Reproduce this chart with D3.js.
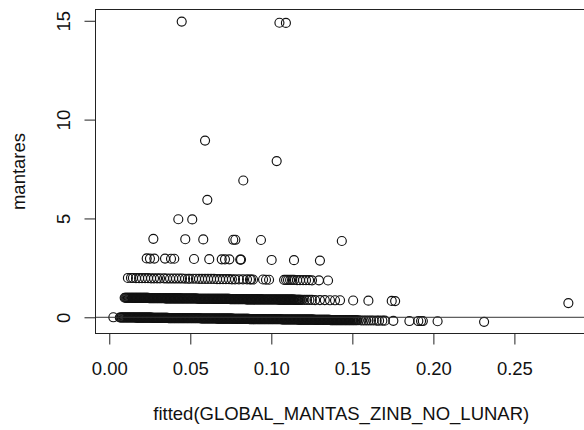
<!DOCTYPE html>
<html>
<head>
<meta charset="utf-8">
<script src="https://cdn.jsdelivr.net/npm/d3@7"></script>
<style>
  body { margin: 0; background: #fff; }
  svg { display: block; font-family: "Liberation Sans", Arial, Helvetica, sans-serif; }
</style>
</head>
<body>
<svg id="chart" width="584" height="430"></svg>
<script>
// points as [fitted, plotted value]
// zero observations: dense band, then its thinner tail
const obs0 = [
  [0.0025,0.00],
  [0.0065,-0.01],[0.0070,-0.01],[0.0075,-0.01],[0.0080,-0.01],[0.0085,-0.01],[0.0090,-0.01],[0.0095,-0.01],[0.0100,-0.01],[0.0105,-0.01],[0.0110,-0.01],
  [0.0115,-0.01],[0.0120,-0.01],[0.0125,-0.01],[0.0130,-0.01],[0.0135,-0.01],[0.0140,-0.01],[0.0145,-0.01],[0.0150,-0.01],[0.0155,-0.01],[0.0160,-0.01],
  [0.0165,-0.02],[0.0170,-0.02],[0.0175,-0.02],[0.0180,-0.02],[0.0185,-0.02],[0.0190,-0.02],[0.0195,-0.02],[0.0200,-0.02],[0.0205,-0.02],[0.0210,-0.02],
  [0.0215,-0.02],[0.0220,-0.02],[0.0225,-0.02],[0.0230,-0.02],[0.0235,-0.02],[0.0240,-0.02],[0.0245,-0.02],[0.0250,-0.02],[0.0255,-0.02],[0.0260,-0.02],
  [0.0265,-0.03],[0.0270,-0.03],[0.0275,-0.03],[0.0280,-0.03],[0.0285,-0.03],[0.0290,-0.03],[0.0295,-0.03],[0.0300,-0.03],[0.0305,-0.03],[0.0310,-0.03],
  [0.0315,-0.03],[0.0320,-0.03],[0.0325,-0.03],[0.0330,-0.03],[0.0335,-0.03],[0.0340,-0.03],[0.0345,-0.03],[0.0350,-0.03],[0.0355,-0.03],[0.0360,-0.03],
  [0.0365,-0.04],[0.0370,-0.04],[0.0375,-0.04],[0.0380,-0.04],[0.0385,-0.04],[0.0390,-0.04],[0.0395,-0.04],[0.0400,-0.04],[0.0405,-0.04],[0.0410,-0.04],
  [0.0415,-0.04],[0.0420,-0.04],[0.0425,-0.04],[0.0430,-0.04],[0.0435,-0.04],[0.0440,-0.04],[0.0445,-0.04],[0.0450,-0.04],[0.0455,-0.04],[0.0460,-0.04],
  [0.0465,-0.05],[0.0470,-0.05],[0.0475,-0.05],[0.0480,-0.05],[0.0485,-0.05],[0.0490,-0.05],[0.0495,-0.05],[0.0500,-0.05],[0.0505,-0.05],[0.0510,-0.05],
  [0.0515,-0.05],[0.0520,-0.05],[0.0525,-0.05],[0.0530,-0.05],[0.0535,-0.05],[0.0540,-0.05],[0.0545,-0.05],[0.0550,-0.05],[0.0555,-0.05],[0.0560,-0.05],
  [0.0565,-0.06],[0.0570,-0.06],[0.0575,-0.06],[0.0580,-0.06],[0.0585,-0.06],[0.0590,-0.06],[0.0595,-0.06],[0.0600,-0.06],[0.0605,-0.06],[0.0610,-0.06],
  [0.0615,-0.06],[0.0620,-0.06],[0.0625,-0.06],[0.0630,-0.06],[0.0635,-0.06],[0.0640,-0.06],[0.0645,-0.06],[0.0650,-0.06],[0.0655,-0.06],[0.0660,-0.06],
  [0.0665,-0.07],[0.0670,-0.07],[0.0675,-0.07],[0.0680,-0.07],[0.0685,-0.07],[0.0690,-0.07],[0.0695,-0.07],[0.0700,-0.07],[0.0705,-0.07],[0.0710,-0.07],
  [0.0715,-0.07],[0.0720,-0.07],[0.0725,-0.07],[0.0730,-0.07],[0.0735,-0.07],[0.0740,-0.07],[0.0745,-0.07],[0.0750,-0.07],[0.0755,-0.07],[0.0760,-0.07],
  [0.0765,-0.08],[0.0770,-0.08],[0.0775,-0.08],[0.0780,-0.08],[0.0785,-0.08],[0.0790,-0.08],[0.0795,-0.08],[0.0800,-0.08],[0.0805,-0.08],[0.0810,-0.08],
  [0.0815,-0.08],[0.0820,-0.08],[0.0825,-0.08],[0.0830,-0.08],[0.0835,-0.08],[0.0840,-0.08],[0.0845,-0.08],[0.0850,-0.08],[0.0855,-0.08],[0.0860,-0.08],
  [0.0865,-0.09],[0.0870,-0.09],[0.0875,-0.09],[0.0880,-0.09],[0.0885,-0.09],[0.0890,-0.09],[0.0895,-0.09],[0.0900,-0.09],[0.0905,-0.09],[0.0910,-0.09],
  [0.0915,-0.09],[0.0920,-0.09],[0.0925,-0.09],[0.0930,-0.09],[0.0935,-0.09],[0.0940,-0.09],[0.0945,-0.09],[0.0950,-0.09],[0.0955,-0.09],[0.0960,-0.09],
  [0.0965,-0.10],[0.0970,-0.10],[0.0975,-0.10],[0.0980,-0.10],[0.0985,-0.10],[0.0990,-0.10],[0.0995,-0.10],[0.1000,-0.10],[0.1005,-0.10],[0.1010,-0.10],
  [0.1015,-0.10],[0.1020,-0.10],[0.1025,-0.10],[0.1030,-0.10],[0.1035,-0.10],[0.1040,-0.10],[0.1045,-0.10],[0.1050,-0.10],[0.1055,-0.10],[0.1060,-0.10],
  [0.1065,-0.11],[0.1070,-0.11],[0.1075,-0.11],[0.1080,-0.11],[0.1085,-0.11],[0.1090,-0.11],[0.1095,-0.11],[0.1100,-0.11],[0.1105,-0.11],[0.1110,-0.11],
  [0.1115,-0.11],[0.1120,-0.11],[0.1125,-0.11],[0.1130,-0.11],[0.1135,-0.11],[0.1140,-0.11],[0.1145,-0.11],[0.1150,-0.11],[0.1155,-0.11],[0.1160,-0.11],
  [0.1165,-0.12],[0.1170,-0.12],[0.1175,-0.12],[0.1180,-0.12],[0.1185,-0.12],[0.1190,-0.12],[0.1195,-0.12],[0.1200,-0.12],[0.1205,-0.12],[0.1210,-0.12],
  [0.1215,-0.12],[0.1220,-0.12],[0.1225,-0.12],[0.1230,-0.12],[0.1235,-0.12],[0.1240,-0.12],[0.1245,-0.12],[0.1250,-0.12],[0.1255,-0.12],[0.1260,-0.12],
  [0.1265,-0.13],[0.1270,-0.13],[0.1275,-0.13],[0.1280,-0.13],[0.1285,-0.13],[0.1290,-0.13],[0.1295,-0.13],[0.1300,-0.13],[0.1305,-0.13],[0.1310,-0.13],
  [0.1315,-0.13],[0.1320,-0.13],[0.1325,-0.13],[0.1330,-0.13],[0.1335,-0.13],[0.1340,-0.13],[0.1345,-0.13],[0.1350,-0.13],[0.1355,-0.13],[0.1360,-0.13],
  [0.1365,-0.14],[0.1370,-0.14],[0.1375,-0.14],[0.1380,-0.14],[0.1385,-0.14],[0.1390,-0.14],[0.1395,-0.14],[0.1400,-0.14],[0.1405,-0.14],[0.1410,-0.14],
  [0.1415,-0.14],[0.1420,-0.14],[0.1425,-0.14],[0.1430,-0.14],[0.1435,-0.14],[0.1440,-0.14],[0.1445,-0.14],[0.1450,-0.14],[0.1455,-0.14],[0.1460,-0.14],
  [0.1465,-0.15],[0.1470,-0.15],[0.1475,-0.15],[0.1480,-0.15],[0.1485,-0.15],[0.1490,-0.15],[0.1495,-0.15],[0.1500,-0.15],[0.1505,-0.15],[0.1510,-0.15],
  [0.1515,-0.15],[0.1520,-0.15],[0.1525,-0.15],[0.1530,-0.15],
  [0.1540,-0.15],[0.1555,-0.16],[0.1570,-0.16],[0.1585,-0.16],[0.1600,-0.16],[0.1615,-0.16],[0.1630,-0.16],[0.1650,-0.17],[0.1665,-0.17],[0.1685,-0.17],[0.1700,-0.17],
  [0.1753,-0.18],[0.1852,-0.19],[0.1907,-0.19],[0.1924,-0.19],[0.1935,-0.19],[0.2026,-0.20],[0.2313,-0.23]
];

// one observation
const obs1 = [
  [0.0095,0.99],[0.0100,0.99],[0.0105,0.99],[0.0110,0.99],[0.0115,0.99],[0.0120,0.99],[0.0125,0.99],[0.0130,0.99],[0.0135,0.99],[0.0140,0.99],
  [0.0145,0.98],[0.0150,0.98],[0.0155,0.98],[0.0160,0.98],[0.0165,0.98],[0.0170,0.98],[0.0175,0.98],[0.0180,0.98],[0.0185,0.98],[0.0190,0.98],
  [0.0195,0.98],[0.0200,0.98],[0.0205,0.98],[0.0210,0.98],[0.0215,0.98],[0.0220,0.98],[0.0225,0.98],[0.0230,0.98],[0.0235,0.98],[0.0240,0.98],
  [0.0245,0.97],[0.0250,0.97],[0.0255,0.97],[0.0260,0.97],[0.0265,0.97],[0.0270,0.97],[0.0275,0.97],[0.0280,0.97],[0.0285,0.97],[0.0290,0.97],
  [0.0295,0.97],[0.0300,0.97],[0.0305,0.97],[0.0310,0.97],[0.0315,0.97],[0.0320,0.97],[0.0325,0.97],[0.0330,0.97],[0.0335,0.97],[0.0340,0.97],
  [0.0345,0.96],[0.0350,0.96],[0.0355,0.96],[0.0360,0.96],[0.0365,0.96],[0.0370,0.96],[0.0375,0.96],[0.0380,0.96],[0.0385,0.96],[0.0390,0.96],
  [0.0395,0.96],[0.0400,0.96],[0.0405,0.96],[0.0410,0.96],[0.0415,0.96],[0.0420,0.96],[0.0425,0.96],[0.0430,0.96],[0.0435,0.96],[0.0440,0.96],
  [0.0445,0.95],[0.0450,0.95],[0.0455,0.95],[0.0460,0.95],[0.0465,0.95],[0.0470,0.95],[0.0475,0.95],[0.0480,0.95],[0.0485,0.95],[0.0490,0.95],
  [0.0495,0.95],[0.0500,0.95],[0.0505,0.95],[0.0510,0.95],[0.0515,0.95],[0.0520,0.95],[0.0525,0.95],[0.0530,0.95],[0.0535,0.95],[0.0540,0.95],
  [0.0545,0.94],[0.0550,0.94],[0.0555,0.94],[0.0560,0.94],[0.0565,0.94],[0.0570,0.94],[0.0575,0.94],[0.0580,0.94],[0.0585,0.94],[0.0590,0.94],
  [0.0595,0.94],[0.0600,0.94],[0.0605,0.94],[0.0610,0.94],[0.0615,0.94],[0.0620,0.94],[0.0625,0.94],[0.0630,0.94],[0.0635,0.94],[0.0640,0.94],
  [0.0645,0.93],[0.0650,0.93],[0.0655,0.93],[0.0660,0.93],[0.0665,0.93],[0.0670,0.93],[0.0675,0.93],[0.0680,0.93],[0.0685,0.93],[0.0690,0.93],
  [0.0695,0.93],[0.0700,0.93],[0.0705,0.93],[0.0710,0.93],[0.0715,0.93],[0.0720,0.93],[0.0725,0.93],[0.0730,0.93],[0.0735,0.93],[0.0740,0.93],
  [0.0745,0.92],[0.0750,0.92],[0.0755,0.92],[0.0760,0.92],[0.0765,0.92],[0.0770,0.92],[0.0775,0.92],[0.0780,0.92],[0.0785,0.92],[0.0790,0.92],
  [0.0795,0.92],[0.0800,0.92],[0.0805,0.92],[0.0810,0.92],[0.0815,0.92],[0.0820,0.92],[0.0825,0.92],[0.0830,0.92],[0.0835,0.92],[0.0840,0.92],
  [0.0845,0.91],[0.0850,0.91],[0.0855,0.91],[0.0860,0.91],[0.0865,0.91],[0.0870,0.91],[0.0875,0.91],[0.0880,0.91],[0.0885,0.91],[0.0890,0.91],
  [0.0895,0.91],[0.0900,0.91],[0.0905,0.91],[0.0910,0.91],[0.0915,0.91],[0.0920,0.91],[0.0925,0.91],[0.0930,0.91],[0.0935,0.91],[0.0940,0.91],
  [0.0945,0.90],[0.0950,0.90],[0.0955,0.90],[0.0960,0.90],[0.0965,0.90],[0.0970,0.90],[0.0975,0.90],[0.0980,0.90],[0.0985,0.90],[0.0990,0.90],
  [0.0995,0.90],[0.1000,0.90],[0.1005,0.90],[0.1010,0.90],[0.1015,0.90],[0.1020,0.90],[0.1025,0.90],[0.1030,0.90],[0.1035,0.90],[0.1040,0.90],
  [0.1045,0.89],[0.1050,0.89],[0.1055,0.89],[0.1060,0.89],[0.1065,0.89],[0.1070,0.89],[0.1075,0.89],[0.1080,0.89],[0.1085,0.89],[0.1090,0.89],
  [0.1095,0.89],[0.1100,0.89],[0.1105,0.89],[0.1110,0.89],[0.1115,0.89],[0.1120,0.89],[0.1125,0.89],[0.1130,0.89],[0.1135,0.89],[0.1140,0.89],
  [0.1145,0.88],[0.1150,0.88],[0.1155,0.88],[0.1160,0.88],[0.1165,0.88],[0.1170,0.88],[0.1175,0.88],[0.1180,0.88],
  [0.1190,0.88],[0.1205,0.88],[0.1220,0.88],[0.1235,0.88],[0.1250,0.88],[0.1270,0.87],[0.1300,0.87],[0.1330,0.87],[0.1362,0.86],[0.1393,0.86],[0.1424,0.86],
  [0.1505,0.85],[0.1599,0.84],[0.1743,0.83],[0.1764,0.82],[0.2833,0.72]
];

// two observations
const obs2 = [
  [0.0115,1.99],[0.0134,1.99],[0.0146,1.99],[0.0165,1.98],[0.0184,1.98],[0.0202,1.98],[0.0221,1.98],[0.0239,1.98],[0.0258,1.97],[0.0276,1.97],
  [0.0295,1.97],[0.0313,1.97],[0.0338,1.97],[0.0356,1.96],[0.0375,1.96],[0.0394,1.96],[0.0412,1.96],[0.0431,1.96],[0.0449,1.96],[0.0468,1.95],
  [0.0486,1.95],[0.0498,1.95],[0.0517,1.95],[0.0535,1.95],[0.0554,1.94],[0.0572,1.94],[0.0591,1.94],[0.0609,1.94],[0.0628,1.94],[0.0646,1.94],
  [0.0665,1.93],[0.0683,1.93],[0.0702,1.93],[0.0720,1.93],[0.0739,1.93],[0.0757,1.92],[0.0776,1.92],[0.0800,1.92],[0.0825,1.92],[0.0850,1.92],
  [0.0868,1.91],[0.0875,1.91],[0.0887,1.91],[0.0949,1.91],[0.0967,1.90],[0.0986,1.90],[0.1079,1.89],[0.1091,1.89],[0.1103,1.89],[0.1116,1.89],
  [0.1128,1.89],[0.1140,1.89],[0.1159,1.88],[0.1177,1.88],[0.1196,1.88],[0.1214,1.88],[0.1233,1.88],[0.1251,1.87],[0.1294,1.87],[0.1350,1.86]
];

// three observations
const obs3 = [
  [0.0231,2.98],[0.0251,2.97],[0.0278,2.97],[0.0344,2.97],[0.0381,2.96],[0.0401,2.96],[0.0523,2.95],[0.0617,2.94],
  [0.0694,2.93],[0.0714,2.93],[0.0741,2.93],[0.0808,2.92],[0.0813,2.92],[0.1002,2.90],[0.1140,2.89],[0.1300,2.87]
];

// four or more
const obsHigh = [
  [0.0272,3.97],[0.0469,3.95],[0.0580,3.94],[0.0765,3.92],[0.0778,3.92],[0.0936,3.91],[0.1435,3.86],
  [0.0426,4.96],[0.0512,4.95],
  [0.0605,5.94],[0.0827,6.92],[0.1033,7.90],[0.0591,8.94],
  [0.0447,14.96],[0.1050,14.90],[0.1090,14.89]
];

const xTicks = [0, 0.05, 0.10, 0.15, 0.20, 0.25];
const yTicks = [0, 5, 10, 15];
const xTitle = 'fitted(GLOBAL_MANTAS_ZINB_NO_LUNAR)';
const yTitle = 'mantares';

const svg = d3.select('#chart');
const box = {left: 95.5, right: 587, top: 9.5, bottom: 333.5};
const fontSize = '18.5px';

const x = d3.scaleLinear().domain([-0.0085, 0.2948]).range([box.left, box.right]);
const y = d3.scaleLinear().domain([-0.82, 15.57]).range([box.bottom, box.top]);

const allPts = obs0.concat(obs1, obs2, obs3, obsHigh);

// points
svg.append('g')
  .selectAll('circle')
  .data(allPts)
  .join('circle')
  .attr('cx', d => x(d[0]))
  .attr('cy', d => y(d[1]))
  .attr('r', 4.5)
  .attr('fill', 'none')
  .attr('stroke', '#111')
  .attr('stroke-width', 1.15);

// abline at zero
svg.append('line')
  .attr('x1', box.left).attr('x2', box.right)
  .attr('y1', y(0)).attr('y2', y(0))
  .attr('stroke', '#333')
  .attr('stroke-width', 1);

// box
svg.append('rect')
  .attr('x', box.left).attr('y', box.top)
  .attr('width', box.right - box.left)
  .attr('height', box.bottom - box.top)
  .attr('fill', 'none')
  .attr('stroke', '#222')
  .attr('stroke-width', 1);

// x axis
const xAxis = svg.append('g')
  .attr('transform', 'translate(0,' + box.bottom + ')')
  .call(d3.axisBottom(x).tickValues(xTicks).tickFormat(d3.format('.2f')).tickSize(11).tickSizeOuter(0));
xAxis.select('.domain').remove();
xAxis.selectAll('line').attr('stroke', '#222');
xAxis.selectAll('text')
  .attr('y', 0).attr('dy', null)
  .attr('transform', 'translate(0,41)')
  .style('font-size', fontSize)
  .attr('fill', '#111');

// y axis
const yAxis = svg.append('g')
  .attr('transform', 'translate(' + box.left + ',0)')
  .call(d3.axisLeft(y).tickValues(yTicks).tickFormat(d3.format('d')).tickSize(11).tickSizeOuter(0));
yAxis.select('.domain').remove();
yAxis.selectAll('line').attr('stroke', '#222');
yAxis.selectAll('text')
  .attr('x', null).attr('dy', null)
  .attr('text-anchor', 'middle')
  .attr('transform', 'translate(-26,0) rotate(-90)')
  .style('font-size', fontSize)
  .attr('fill', '#111');

// titles
svg.append('text')
  .attr('x', (box.left + box.right) / 2)
  .attr('y', 420)
  .attr('text-anchor', 'middle')
  .style('font-size', fontSize)
  .attr('fill', '#111')
  .text(xTitle);

svg.append('text')
  .attr('transform', 'translate(25,' + ((box.top + box.bottom) / 2) + ') rotate(-90)')
  .attr('text-anchor', 'middle')
  .style('font-size', fontSize)
  .attr('fill', '#111')
  .text(yTitle);
</script>
</body>
</html>
